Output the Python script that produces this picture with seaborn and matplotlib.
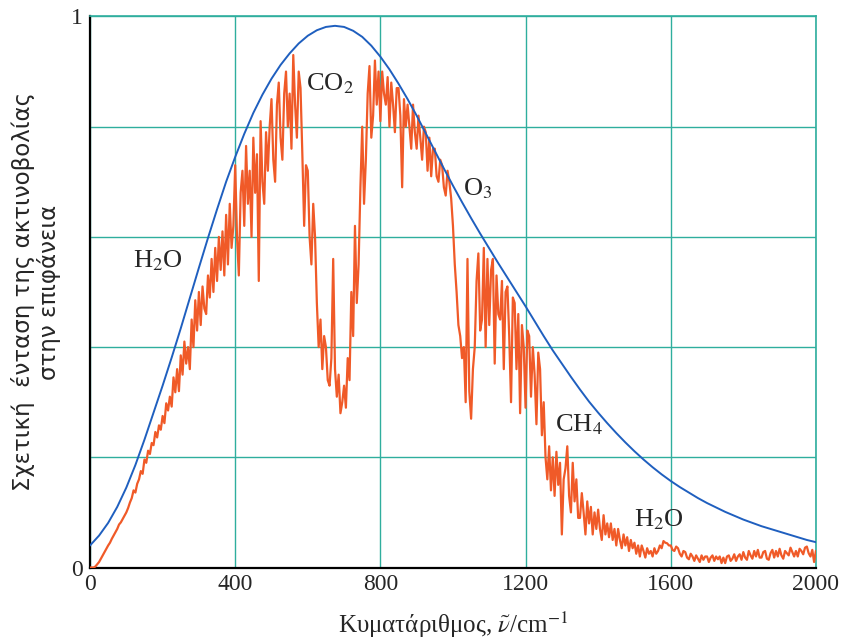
import numpy as np
import pandas as pd
import matplotlib
matplotlib.use("Agg")
import matplotlib.pyplot as plt
import seaborn as sns

# blue envelope (smooth curve), every 25 cm-1
blue_wn = np.arange(0, 2001, 25)
blue_val = [0.04, 0.058, 0.081, 0.11, 0.145, 0.186, 0.232, 0.281, 0.33, 0.381,
            0.434, 0.489, 0.544, 0.598, 0.65, 0.70, 0.745, 0.787, 0.825, 0.858,
            0.887, 0.912, 0.933, 0.951, 0.965, 0.975, 0.981, 0.983, 0.981, 0.974,
            0.963, 0.947, 0.927, 0.904, 0.878, 0.85, 0.82, 0.788, 0.756, 0.724,
            0.693, 0.663, 0.634, 0.606, 0.579, 0.552, 0.526, 0.50, 0.474, 0.447,
            0.42, 0.394, 0.37, 0.346, 0.323, 0.301, 0.281, 0.262, 0.244, 0.227,
            0.211, 0.196, 0.182, 0.169, 0.157, 0.146, 0.136, 0.126, 0.117, 0.109,
            0.101, 0.094, 0.087, 0.081, 0.075, 0.07, 0.065, 0.06, 0.055, 0.05,
            0.046]

# orange spectrum, one value every 5 cm-1 from 0 to 2000
orange_wn = np.arange(0, 2001, 5)
orange_val = [
    0, 0, 0, 0.002, 0.006, 0.010, 0.016, 0.022, 0.028, 0.034,
    0.040, 0.045, 0.052, 0.058, 0.064, 0.070, 0.078, 0.082, 0.088, 0.094,
    0.100, 0.108, 0.118, 0.126, 0.140, 0.136, 0.152, 0.160, 0.175, 0.170,
    0.196, 0.190, 0.212, 0.206, 0.226, 0.222, 0.246, 0.236, 0.258, 0.250,
    0.275, 0.262, 0.298, 0.285, 0.31, 0.292, 0.345, 0.318, 0.36, 0.32,
    0.385, 0.35, 0.41, 0.37, 0.40, 0.36, 0.45, 0.40, 0.485, 0.43,
    0.50, 0.44, 0.51, 0.47, 0.46, 0.53, 0.49, 0.56, 0.50, 0.58,
    0.52, 0.60, 0.54, 0.61, 0.53, 0.64, 0.55, 0.66, 0.58, 0.62,
    0.73, 0.60, 0.53, 0.68, 0.72, 0.62, 0.765, 0.66, 0.72, 0.60,
    0.78, 0.68, 0.75, 0.52, 0.81, 0.70, 0.66, 0.79, 0.72, 0.80,
    0.85, 0.74, 0.70, 0.84, 0.88, 0.78, 0.74, 0.86, 0.90, 0.80,
    0.86, 0.76, 0.93, 0.84, 0.78, 0.90, 0.87, 0.75, 0.62, 0.73,
    0.72, 0.60, 0.55, 0.66, 0.60, 0.48, 0.40, 0.45, 0.36, 0.42,
    0.40, 0.34, 0.33, 0.38, 0.56, 0.36, 0.31, 0.35, 0.28, 0.30,
    0.33, 0.29, 0.38, 0.34, 0.50, 0.42, 0.62, 0.48, 0.55, 0.69,
    0.80, 0.66, 0.74, 0.86, 0.91, 0.78, 0.82, 0.92, 0.84, 0.90,
    0.81, 0.90, 0.86, 0.84, 0.89, 0.80, 0.88, 0.84, 0.79, 0.87,
    0.87, 0.82, 0.69, 0.85, 0.80, 0.84, 0.80, 0.76, 0.84, 0.79,
    0.76, 0.82, 0.78, 0.74, 0.80, 0.79, 0.72, 0.78, 0.71, 0.76,
    0.76, 0.71, 0.70, 0.74, 0.73, 0.69, 0.675, 0.72, 0.70, 0.67,
    0.62, 0.55, 0.50, 0.44, 0.42, 0.38, 0.40, 0.30, 0.56, 0.32,
    0.27, 0.36, 0.40, 0.52, 0.57, 0.43, 0.45, 0.58, 0.40, 0.56,
    0.44, 0.54, 0.56, 0.37, 0.53, 0.46, 0.45, 0.52, 0.36, 0.50,
    0.51, 0.42, 0.30, 0.49, 0.48, 0.36, 0.46, 0.28, 0.44, 0.40,
    0.29, 0.43, 0.42, 0.31, 0.40, 0.35, 0.26, 0.39, 0.36, 0.24,
    0.30, 0.20, 0.16, 0.22, 0.14, 0.20, 0.13, 0.21, 0.15, 0.19,
    0.06, 0.16, 0.18, 0.22, 0.13, 0.10, 0.19, 0.12, 0.16, 0.09,
    0.09, 0.135, 0.10, 0.06, 0.12, 0.08, 0.11, 0.06, 0.10, 0.07,
    0.105, 0.07, 0.05, 0.095, 0.06, 0.08, 0.055, 0.08, 0.05, 0.07,
    0.04, 0.07, 0.05, 0.035, 0.06, 0.04, 0.055, 0.03, 0.05, 0.035,
    0.045, 0.025, 0.04, 0.02, 0.04, 0.03, 0.018, 0.035, 0.025, 0.03,
    0.02, 0.035, 0.025, 0.03, 0.04, 0.035, 0.048, 0.045, 0.044, 0.04,
    0.04, 0.032, 0.03, 0.038, 0.035, 0.025, 0.02, 0.03, 0.028, 0.018,
    0.015, 0.025, 0.02, 0.012, 0.022, 0.016, 0.01, 0.022, 0.014, 0.02,
    0.02, 0.01, 0.018, 0.022, 0.012, 0.02, 0.015, 0.02, 0.008, 0.018,
    0.008, 0.02, 0.022, 0.012, 0.016, 0.024, 0.012, 0.02, 0.024, 0.014,
    0.028, 0.018, 0.014, 0.03, 0.022, 0.016, 0.03, 0.02, 0.032, 0.018,
    0.018, 0.028, 0.03, 0.016, 0.014, 0.026, 0.032, 0.018, 0.03, 0.02,
    0.034, 0.022, 0.016, 0.03, 0.026, 0.022, 0.036, 0.028, 0.02, 0.03,
    0.02, 0.034, 0.03, 0.024, 0.036, 0.038, 0.026, 0.02, 0.032, 0.01,
    0.03]

x_ticks = [0, 400, 800, 1200, 1600, 2000]
y_ticks = [0, 0.2, 0.4, 0.6, 0.8, 1.0]
y_ticklabels = ["0", "", "", "", "", "1"]

# (text, wavenumber, value) of the gas labels
gas_labels = [("H$_2$O", 187, 0.556), ("CO$_2$", 660, 0.878),
              ("O$_3$", 1068, 0.687), ("CH$_4$", 1348, 0.26),
              ("H$_2$O", 1568, 0.087)]

sns.set_theme(style="white")
plt.rcParams["font.family"] = ["Liberation Serif", "DejaVu Serif"]
plt.rcParams["mathtext.fontset"] = "stix"

grid_col = "#2fae9e"
fig = plt.figure(figsize=(8.5, 6.43), dpi=100)
ax = fig.add_axes([0.1059, 0.1174, 0.854, 0.857])

df_o = pd.DataFrame({"wn": orange_wn, "val": orange_val})
df_b = pd.DataFrame({"wn": blue_wn, "val": blue_val})
sns.lineplot(data=df_o, x="wn", y="val", color="#f05a28", lw=1.6, ax=ax, zorder=3)
sns.lineplot(data=df_b, x="wn", y="val", color="#1f5fbf", lw=1.4, ax=ax, zorder=4)

ax.set_xlim(0, 2000)
ax.set_ylim(0, 1)
ax.set_xticks(x_ticks)
ax.set_yticks(y_ticks)
ax.set_yticklabels(y_ticklabels)
ax.tick_params(length=0, labelsize=17, pad=5)
ax.grid(True, color=grid_col, lw=1)
for s in ["top", "right"]:
    ax.spines[s].set_color(grid_col)
    ax.spines[s].set_linewidth(1.2)
for s in ["left", "bottom"]:
    ax.spines[s].set_color("black")
    ax.spines[s].set_linewidth(1.6)

for txt, xx, yy in gas_labels:
    ax.text(xx, yy, txt, fontsize=19, ha="center", va="center", zorder=5)

ax.set_xlabel("Κυματάριθμος, $\\tilde{\\nu}$/cm$^{-1}$", fontsize=18, labelpad=10)
ax.set_ylabel("Σχετική  ένταση της ακτινοβολίας\nστην επιφάνεια", fontsize=16.5,
              family=["DejaVu Sans"], labelpad=7, linespacing=1.15)

plt.savefig("out.png", dpi=100)
